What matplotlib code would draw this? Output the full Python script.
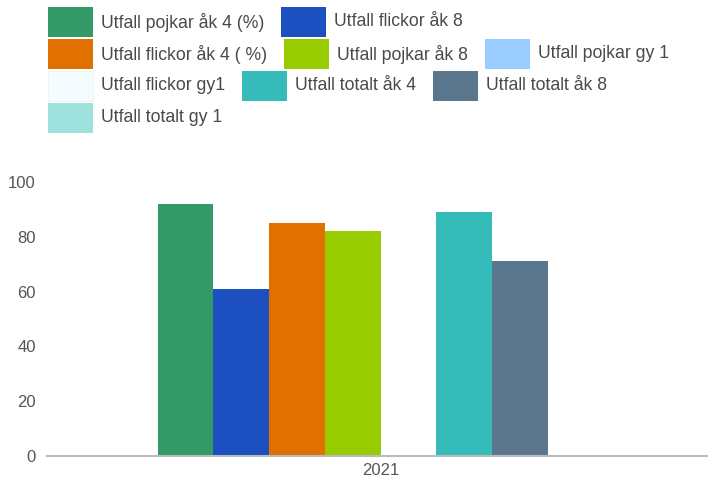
import numpy as np
import matplotlib
matplotlib.use('Agg')
import matplotlib.pyplot as plt
from matplotlib.patches import Rectangle

plt.rcParams['font.family'] = ['Liberation Sans', 'DejaVu Sans']

# data
category = ['2021']
series = ['Utfall pojkar åk 4 (%)', 'Utfall flickor åk 8', 'Utfall flickor åk 4 ( %)',
          'Utfall pojkar åk 8', 'Utfall pojkar gy 1', 'Utfall flickor gy1',
          'Utfall totalt åk 4', 'Utfall totalt åk 8', 'Utfall totalt gy 1']
values = [92, 61, 85, 82, np.nan, np.nan, 89, 71, np.nan]
colors = ['#339966', '#1c4fbf', '#e07000', '#99cc00', '#99ccff', '#f5fcff',
          '#36bbbb', '#5a778e', '#9de2dc']
# series drawn as bar slots (flickor gy1 has no column in the chart)
drawn = [0, 1, 2, 3, 4, 6, 7, 8]
yticks = [0, 20, 40, 60, 80, 100]

W, H = 708, 484
fig = plt.figure(figsize=(W / 100, H / 100), dpi=100)
ax = fig.add_axes([47 / W, (H - 456) / H, 667 / W, 274 / H])

n = len(drawn)
group = 0.668
bw = group / n
x0 = np.arange(len(category))
for k, i in enumerate(drawn):
    pos = x0 - group / 2 + bw * (k + 0.5)
    ax.bar(pos, [values[i]], width=bw, color=colors[i], edgecolor='none')

ax.set_xlim(-0.5, 0.5)
ax.set_ylim(0, 100)
ax.set_yticks(yticks)
ax.set_xticks(x0)
ax.set_xticklabels(category)
for s in ['top', 'right', 'left']:
    ax.spines[s].set_visible(False)
ax.spines['bottom'].set_color('#bbbbbb')
ax.spines['bottom'].set_linewidth(1.5)
ax.tick_params(axis='both', length=0, labelsize=12, labelcolor='#555555')
ax.tick_params(axis='y', pad=8)
ax.tick_params(axis='x', pad=5)

# flowing legend at top, in pixel coordinates
fig.canvas.draw()
renderer = fig.canvas.get_renderer()
sw, sh = 45, 30
x, row = 48, 0
row_y = [22, 54, 86, 118]
maxx = 688
for i, name in enumerate(series):
    t = fig.text(0, 0, name, fontsize=12.7, color='#4a4a4a', va='center')
    tw = t.get_window_extent(renderer).width
    if x + sw + 8 + tw > maxx:
        x = 48
        row += 1
    yc = H - row_y[row]
    fig.patches.append(Rectangle(((x) / W, (yc - sh / 2) / H), sw / W, sh / H,
                                 transform=fig.transFigure, facecolor=colors[i],
                                 edgecolor='#eeeeee' if i == 5 else 'none', lw=0.5))
    t.set_position(((x + sw + 8) / W, yc / H))
    x = x + sw + 8 + tw + 17

fig.savefig('out.png', dpi=100)
